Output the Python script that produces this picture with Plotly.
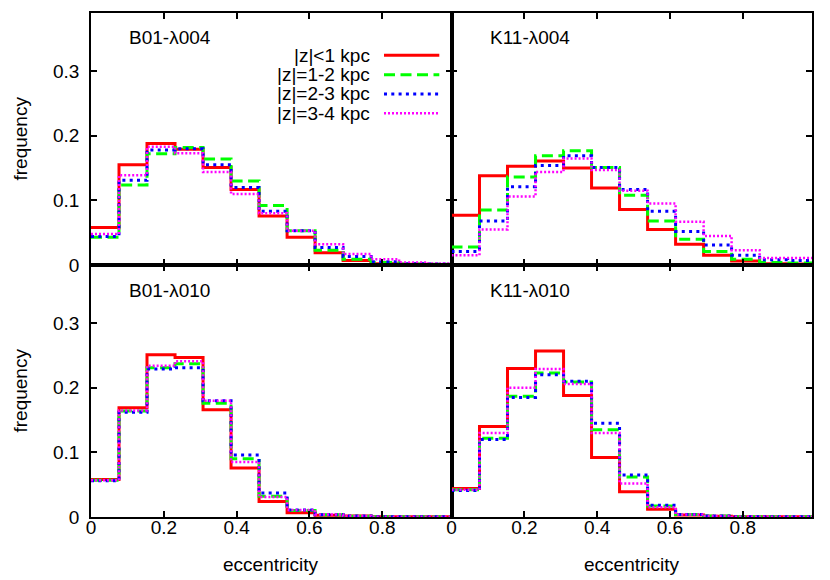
import plotly.graph_objects as go

# bin left edges (13 equal bins on [0,1]) plus final right edge
bin_edges = [0.0, 0.0769, 0.1538, 0.2308, 0.3077, 0.3846, 0.4615, 0.5385,
             0.6154, 0.6923, 0.7692, 0.8462, 0.9231, 1.0]

series_names = ["|z|<1 kpc", "|z|=1-2 kpc", "|z|=2-3 kpc", "|z|=3-4 kpc"]
panel_titles = ["B01-λ004", "K11-λ004", "B01-λ010", "K11-λ010"]
xtick_vals = [0, 0.2, 0.4, 0.6, 0.8]
xtick_text = ["0", "0.2", "0.4", "0.6", "0.8"]
ytick_vals = [0, 0.1, 0.2, 0.3]
ytick_text = ["0", "0.1", "0.2", "0.3"]

# Panel 1: B01-lambda004
b01_004_z01 = [0.058, 0.155, 0.188, 0.179, 0.151, 0.117, 0.076, 0.043, 0.019, 0.007, 0.002, 0.001, 0.0005]
b01_004_z12 = [0.043, 0.124, 0.172, 0.182, 0.164, 0.130, 0.092, 0.053, 0.023, 0.009, 0.004, 0.0015, 0.001]
b01_004_z23 = [0.044, 0.131, 0.178, 0.180, 0.155, 0.120, 0.083, 0.053, 0.027, 0.013, 0.005, 0.002, 0.0015]
b01_004_z34 = [0.048, 0.139, 0.183, 0.173, 0.144, 0.110, 0.080, 0.053, 0.032, 0.017, 0.009, 0.004, 0.0025]

# Panel 2: K11-lambda004
k11_004_z01 = [0.077, 0.138, 0.153, 0.161, 0.150, 0.119, 0.086, 0.055, 0.032, 0.015, 0.006, 0.002, 0.0015]
k11_004_z12 = [0.028, 0.085, 0.136, 0.169, 0.177, 0.151, 0.108, 0.068, 0.040, 0.021, 0.009, 0.004, 0.003]
k11_004_z23 = [0.021, 0.068, 0.121, 0.154, 0.169, 0.151, 0.117, 0.083, 0.052, 0.031, 0.015, 0.008, 0.007]
k11_004_z34 = [0.015, 0.055, 0.106, 0.144, 0.165, 0.147, 0.115, 0.095, 0.067, 0.045, 0.023, 0.011, 0.011]

# Panel 3: B01-lambda010
b01_010_z01 = [0.058, 0.169, 0.251, 0.247, 0.166, 0.076, 0.024, 0.0067, 0.0026, 0.0015, 0.0005, 0.0003, 0.0003]
b01_010_z12 = [0.057, 0.164, 0.231, 0.237, 0.176, 0.090, 0.032, 0.010, 0.0036, 0.001, 0.0005, 0.0003, 0.0003]
b01_010_z23 = [0.056, 0.162, 0.229, 0.231, 0.180, 0.096, 0.037, 0.011, 0.0036, 0.0015, 0.0005, 0.0003, 0.0003]
b01_010_z34 = [0.057, 0.165, 0.234, 0.241, 0.180, 0.085, 0.031, 0.011, 0.004, 0.0015, 0.0005, 0.0003, 0.0003]

# Panel 4: K11-lambda010
k11_010_z01 = [0.044, 0.140, 0.230, 0.257, 0.188, 0.092, 0.039, 0.012, 0.003, 0.001, 0.0005, 0.0003, 0.0003]
k11_010_z12 = [0.042, 0.122, 0.187, 0.223, 0.209, 0.135, 0.062, 0.017, 0.004, 0.0015, 0.0005, 0.0003, 0.0003]
k11_010_z23 = [0.041, 0.120, 0.185, 0.220, 0.210, 0.145, 0.065, 0.018, 0.004, 0.0015, 0.0005, 0.0003, 0.0003]
k11_010_z34 = [0.042, 0.130, 0.200, 0.229, 0.206, 0.130, 0.052, 0.015, 0.004, 0.0015, 0.0005, 0.0003, 0.0003]

panels = [
    [b01_004_z01, b01_004_z12, b01_004_z23, b01_004_z34],
    [k11_004_z01, k11_004_z12, k11_004_z23, k11_004_z34],
    [b01_010_z01, b01_010_z12, b01_010_z23, b01_010_z34],
    [k11_010_z01, k11_010_z12, k11_010_z23, k11_010_z34],
]

colors = ["#ff0000", "#00ff00", "#0000ff", "#ff00ff"]
widths = [3, 3, 3, 2.5]
dashes = ["solid", "11px,5.5px", "3px,4.3px", "2px,2px"]

FONT = "Liberation Sans, Arial, Helvetica, sans-serif"
FS = 19

# page offset from the default body margin of the html page
OFF = 8
# plot area in page pixels
L, R, T, B = 91 - OFF, 812 - OFF, 11 - OFF, 517 - OFF
W, H = 830 - OFF, 580 - OFF
xdom = [[0, 0.5], [0.5, 1.0], [0, 0.5], [0.5, 1.0]]
ydom = [[0.5, 1.0], [0.5, 1.0], [0, 0.5], [0, 0.5]]

fig = go.Figure()

for p in range(4):
    ax = "" if p == 0 else str(p + 1)
    for s in range(4):
        vals = panels[p][s]
        fig.add_trace(go.Scatter(
            x=bin_edges, y=vals + [vals[-1]],
            mode="lines", line=dict(shape="hv", color=colors[s], width=widths[s], dash=dashes[s]),
            xaxis="x" + ax, yaxis="y" + ax, showlegend=False, hoverinfo="skip"))
    bottom = p >= 2
    left = p % 2 == 0
    fig.layout["xaxis" + ax] = dict(
        domain=xdom[p], range=[0, 0.99], anchor="y" + ax,
        tickvals=xtick_vals, ticktext=xtick_text, showticklabels=bottom,
        ticks="inside", ticklen=6, tickwidth=1.5, tickcolor="black",
        showline=True, linecolor="black", linewidth=1.5, mirror="allticks",
        showgrid=False, zeroline=False, ticklabelstandoff=-8,
        tickfont=dict(family=FONT, size=FS, color="black"))
    fig.layout["yaxis" + ax] = dict(
        domain=ydom[p], range=[0, 0.39], anchor="x" + ax,
        tickvals=ytick_vals, ticktext=ytick_text, showticklabels=left,
        ticks="inside", ticklen=6, tickwidth=1.5, tickcolor="black",
        showline=True, linecolor="black", linewidth=1.5, mirror="allticks",
        showgrid=False, zeroline=False, ticklabelstandoff=6,
        tickfont=dict(family=FONT, size=FS, color="black"))


def px(xp):
    return (xp - OFF - L) / (R - L)


def py(yp):
    return (B - (yp - OFF)) / (B - T)


annotations = []
label_pos = [(127, 36), (488, 36), (127, 290), (488, 290)]
for t, (lx, ly) in zip(panel_titles, label_pos):
    annotations.append(dict(text=t, xref="paper", yref="paper", x=px(lx), y=py(ly),
                            xanchor="left", yanchor="middle", showarrow=False,
                            font=dict(family=FONT, size=FS, color="black")))
for ly in (137, 390):
    annotations.append(dict(text="frequency", xref="paper", yref="paper", x=px(8.5), y=py(ly),
                            xanchor="left", yanchor="middle", textangle=-90, showarrow=False,
                            font=dict(family=FONT, size=FS, color="black")))
for lx in (271, 631.5):
    annotations.append(dict(text="eccentricity", xref="paper", yref="paper", x=px(lx), y=py(565),
                            xanchor="center", yanchor="middle", showarrow=False,
                            font=dict(family=FONT, size=FS, color="black")))

# manual legend (text then line sample, gnuplot style)
shapes = []
leg_rows = [53.3, 73, 92.3, 111.7]
for s, ry in enumerate(leg_rows):
    annotations.append(dict(text=series_names[s], xref="paper", yref="paper", x=px(372), y=py(ry),
                            xanchor="right", yanchor="middle", showarrow=False,
                            font=dict(family=FONT, size=FS, color="black")))
    shapes.append(dict(type="line", xref="paper", yref="paper",
                       x0=px(384), x1=px(439.3), y0=py(ry), y1=py(ry),
                       line=dict(color=colors[s], width=widths[s], dash=dashes[s])))

fig.update_layout(
    width=W, height=H,
    margin=dict(l=L, r=W - R, t=T, b=H - B),
    paper_bgcolor="white", plot_bgcolor="white",
    annotations=annotations, shapes=shapes,
    font=dict(family=FONT, size=FS, color="black"),
)

fig.write_html("out.html")
